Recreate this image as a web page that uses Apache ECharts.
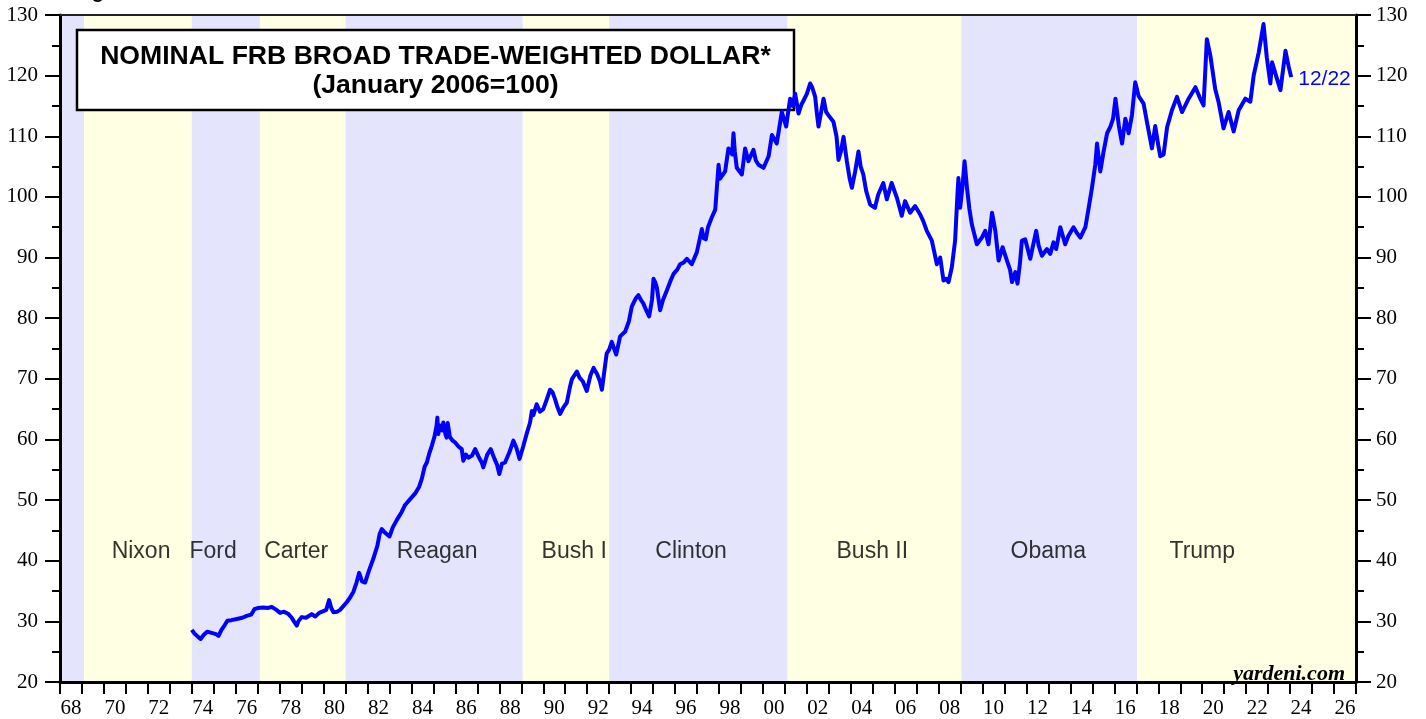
<!DOCTYPE html>
<html>
<head>
<meta charset="utf-8">
<script src="https://cdn.jsdelivr.net/npm/echarts@6/dist/echarts.min.js"></script>
<style>
html,body{margin:0;padding:0;background:#fff;}
#chart{width:1426px;height:719px;}
</style>
</head>
<body>
<div id="chart"></div>
<script>
// ---- Data ----
const yearLabels = ['68','69','70','71','72','73','74','75','76','77','78','79','80','81','82','83','84','85','86','87','88','89','90','91','92','93','94','95','96','97','98','99','00','01','02','03','04','05','06','07','08','09','10','11','12','13','14','15','16','17','18','19','20','21','22','23','24','25','26'];

const dates = [
1974.00,1974.04,1974.12,1974.30,1974.40,1974.55,1974.70,1974.90,1975.10,1975.22,1975.35,1975.50,1975.62,1975.80,
1976.05,1976.30,1976.50,1976.70,1976.85,1977.00,1977.26,1977.45,1977.64,1977.85,1978.02,1978.20,1978.40,1978.55,
1978.65,1978.78,1978.85,1979.00,1979.20,1979.46,1979.62,1979.80,1979.99,1980.12,1980.25,1980.35,1980.45,1980.62,
1980.75,1980.92,1981.06,1981.20,1981.36,1981.50,1981.62,1981.75,1981.89,1982.05,1982.27,1982.45,1982.55,1982.65,
1982.80,1983.00,1983.15,1983.33,1983.55,1983.71,1983.95,1984.17,1984.35,1984.47,1984.60,1984.70,1984.82,1984.93,
1985.05,1985.14,1985.18,1985.22,1985.30,1985.40,1985.45,1985.55,1985.60,1985.65,1985.75,1985.88,1985.99,1986.15,
1986.29,1986.36,1986.48,1986.59,1986.75,1986.90,1987.05,1987.20,1987.27,1987.45,1987.61,1987.78,1987.90,1988.00,
1988.12,1988.26,1988.45,1988.64,1988.78,1988.92,1989.10,1989.25,1989.40,1989.48,1989.55,1989.70,1989.85,1990.00,
1990.15,1990.31,1990.42,1990.54,1990.65,1990.77,1990.92,1991.07,1991.20,1991.30,1991.53,1991.65,1991.80,1991.98,
1992.15,1992.29,1992.45,1992.58,1992.67,1992.80,1992.89,1993.00,1993.12,1993.32,1993.50,1993.73,1993.90,1994.03,
1994.20,1994.33,1994.45,1994.56,1994.70,1994.82,1994.95,1995.02,1995.10,1995.17,1995.32,1995.45,1995.63,1995.80,
1995.93,1996.10,1996.23,1996.40,1996.54,1996.76,1996.99,1997.14,1997.22,1997.30,1997.40,1997.50,1997.67,1997.83,
1997.98,1998.05,1998.13,1998.28,1998.43,1998.60,1998.66,1998.72,1998.81,1999.04,1999.19,1999.34,1999.57,1999.68,
1999.80,2000.03,2000.26,2000.41,2000.63,2000.75,2000.86,2001.06,2001.15,2001.24,2001.35,2001.47,2001.62,2001.75,
2001.85,2002.00,2002.15,2002.25,2002.38,2002.45,2002.53,2002.65,2002.76,2002.88,2002.98,2003.21,2003.35,2003.44,
2003.55,2003.67,2003.82,2003.95,2004.05,2004.20,2004.35,2004.45,2004.57,2004.70,2004.88,2005.10,2005.25,2005.48,
2005.64,2005.86,2006.10,2006.32,2006.47,2006.70,2006.93,2007.16,2007.30,2007.46,2007.69,2007.92,2008.07,2008.22,
2008.35,2008.45,2008.60,2008.75,2008.85,2008.90,2008.98,2009.08,2009.18,2009.29,2009.40,2009.51,2009.74,2009.97,
2010.12,2010.27,2010.43,2010.58,2010.73,2010.91,2011.11,2011.25,2011.34,2011.49,2011.59,2011.70,2011.79,2011.94,
2012.17,2012.44,2012.55,2012.70,2012.93,2013.08,2013.23,2013.35,2013.54,2013.76,2013.91,2014.14,2014.30,2014.45,
2014.68,2014.83,2014.98,2015.13,2015.21,2015.36,2015.51,2015.67,2015.82,2015.94,2016.05,2016.20,2016.35,2016.50,
2016.65,2016.80,2016.95,2017.00,2017.10,2017.18,2017.33,2017.48,2017.71,2017.86,2018.00,2018.09,2018.24,2018.40,
2018.62,2018.85,2019.08,2019.38,2019.69,2019.91,2020.06,2020.21,2020.37,2020.59,2020.74,2020.97,2021.20,2021.43,
2021.66,2021.96,2022.19,2022.34,2022.57,2022.79,2022.94,2023.10,2023.18,2023.40,2023.56,2023.79,2023.94,2024.05
];

const dollarIndex = [
28.6,28.9,28.0,27.4,27.1,27.8,28.3,28.1,27.9,27.6,28.6,29.4,30.1,30.2,
30.4,30.6,30.9,31.1,32.0,32.2,32.3,32.2,32.4,31.9,31.4,31.6,31.2,30.6,
30.0,29.3,30.0,30.7,30.6,31.2,30.8,31.4,31.7,31.9,33.5,32.2,31.5,31.6,
31.9,32.6,33.2,33.9,34.9,36.4,38.0,36.6,36.4,38.2,40.4,42.5,44.4,45.2,
44.6,44.0,45.5,46.7,48.0,49.2,50.2,51.1,52.2,53.5,55.5,56.2,57.8,59.0,
60.5,62.2,63.6,60.9,62.3,61.5,62.8,60.8,60.3,62.7,60.4,59.8,59.5,58.8,
58.4,56.5,57.5,57.0,57.3,58.4,57.2,56.2,55.4,57.5,58.4,56.8,55.8,54.3,
56.0,56.2,57.8,59.8,58.6,56.8,59.0,61.0,62.8,64.7,64.0,65.8,64.6,65.0,
66.5,68.2,67.8,66.6,65.3,64.2,65.3,66.05,68.4,69.9,71.2,70.2,69.6,68.0,
70.6,71.8,70.8,69.6,68.2,71.8,74.2,74.8,76.1,74.0,77.0,77.8,79.5,81.9,
83.2,83.8,83.0,82.4,81.2,80.3,83.0,86.5,85.9,85.1,81.3,83.0,84.6,86.2,
87.3,88.0,88.9,89.2,89.8,88.9,90.85,93.3,94.7,93.2,93.0,95.0,96.6,97.9,
105.3,103.0,103.1,104.2,108.0,107.0,110.5,107.5,104.8,103.7,108.0,105.9,107.75,106.0,
105.3,104.8,106.7,110.2,108.8,111.5,114.0,111.6,114.0,116.2,115.0,117.0,113.75,115.2,
115.9,117.0,118.7,118.0,116.5,114.0,111.6,114.0,116.2,114.0,113.5,112.4,110.0,106.1,
107.5,109.9,105.9,103.0,101.5,104.2,107.5,105.0,103.7,101.0,98.75,98.2,100.4,102.3,
99.6,102.3,99.85,96.9,99.3,97.4,98.5,97.1,96.0,94.4,92.8,88.9,90.0,86.2,
86.5,85.95,88.4,92.8,100.0,103.1,98.2,101.5,105.9,101.5,98.0,95.5,92.2,93.3,
94.4,92.2,97.4,94.4,89.5,91.7,89.5,88.0,85.95,87.6,85.7,89.0,92.8,93.0,
89.8,94.4,92.0,90.3,91.4,90.6,92.5,91.4,95.0,92.2,93.6,95.0,94.0,93.3,
95.0,98.2,101.5,105.3,108.8,104.2,107.5,110.5,111.6,112.9,116.2,111.8,108.8,112.9,
110.5,113.5,118.9,119.0,116.7,116.2,115.4,112.4,108.0,111.7,108.5,106.7,107.0,111.5,
114.3,116.5,114.0,116.2,118.1,116.2,115.1,126.0,123.3,117.8,115.7,111.3,114.0,110.8,
114.3,116.2,115.7,120.0,123.8,128.5,123.0,118.7,122.2,119.5,117.6,124.1,121.4,119.75
];

const termStarts = [1968.0, 1969.09, 1974.0, 1977.1, 1981.0, 1989.07, 1993.0, 2001.12, 2009.03, 2017.03];
const termEnds   = [1969.09, 1974.0, 1977.1, 1981.0, 1989.07, 1993.0, 2001.12, 2009.03, 2017.03, 2027.0];
const termShade  = ['lav','yel','lav','yel','lav','yel','lav','yel','lav','yel'];

const presidents     = ['Nixon','Ford','Carter','Reagan','Bush I','Clinton','Bush II','Obama','Trump'];
const presidentX     = [1971.69, 1974.97, 1978.75, 1985.17, 1991.41, 1996.73, 2004.98, 2012.99, 2020.0];
const presidentLevel = 41.5;

const lastLabel = '12/22';

// ---- Chart ----
const shadeColor = {lav:'#e4e4fc', yel:'#ffffe3'};
const chart = echarts.init(document.getElementById('chart'), null, {renderer:'canvas'});

const lineData = dates.map((d,i)=>[d, dollarIndex[i]]);
const areaData = termStarts.map((s,i)=>[
  {xAxis:s, yAxis:130, itemStyle:{color:shadeColor[termShade[i]]}},
  {xAxis:termEnds[i], yAxis:20}
]);
const presData = presidents.map((n,i)=>({name:n, value:[presidentX[i], presidentLevel]}));

const serifFont = '"Liberation Serif","Times New Roman",serif';
const sansFont = '"Liberation Sans",Arial,sans-serif';

const yAxisBase = {
  type:'value', min:20, max:130, interval:10, z:10,
  axisLine:{show:true, onZero:false, lineStyle:{color:'#000', width:3}},
  axisTick:{show:true, length:15, lineStyle:{color:'#000', width:2}},
  minorTick:{show:true, splitNumber:2, length:8, lineStyle:{color:'#000', width:2}},
  splitLine:{show:false},
  axisLabel:{color:'#000', fontFamily:serifFont, fontSize:21}
};

chart.setOption({
  animation:false,
  backgroundColor:'#fff',
  grid:{left:60, right:70, top:15, bottom:31, containLabel:false},
  xAxis:[
    {
      type:'category', data:yearLabels, position:'bottom', boundaryGap:true, z:10,
      axisLine:{show:true, onZero:false, lineStyle:{color:'#000', width:3}},
      axisTick:{show:true, interval:0, length:12, lineStyle:{color:'#000', width:2}},
      axisLabel:{interval:1, color:'#000', fontFamily:serifFont, fontSize:21, margin:16},
      splitLine:{show:false}
    },
    {
      type:'value', min:1968, max:2027, position:'top', z:10,
      axisLine:{show:true, onZero:false, lineStyle:{color:'#222', width:2}},
      axisTick:{show:false}, axisLabel:{show:false}, splitLine:{show:false}
    }
  ],
  yAxis:[
    Object.assign({}, yAxisBase, {position:'left', axisLabel:Object.assign({}, yAxisBase.axisLabel, {margin:22})}),
    Object.assign({}, yAxisBase, {position:'right', axisLabel:Object.assign({}, yAxisBase.axisLabel, {margin:20})})
  ],
  graphic:[
    {type:'rect', z:4, shape:{x:77, y:30, width:717, height:80},
     style:{fill:'#fff', stroke:'#000', lineWidth:2.5}},
    {type:'text', z:4, x:435.5, y:57,
     style:{text:'NOMINAL FRB BROAD TRADE-WEIGHTED DOLLAR*', fill:'#000', font:'bold 26.6px '+sansFont, align:'center', verticalAlign:'middle'}},
    {type:'text', z:4, x:435.5, y:86,
     style:{text:'(January 2006=100)', fill:'#000', font:'bold 26.6px '+sansFont, align:'center', verticalAlign:'middle'}},
    {type:'text', z:20, x:1345, y:674,
     style:{text:'yardeni.com', fill:'#000', font:'italic bold 22px '+serifFont, align:'right', verticalAlign:'middle'}},
    {type:'text', z:20, x:74, y:-8,
     style:{text:'Figure 1.', fill:'#000', font:'bold 20px '+sansFont, align:'left', verticalAlign:'middle'}}
  ],
  series:[
    {
      type:'line', xAxisIndex:1, yAxisIndex:0, data:[], z:0, silent:true,
      markArea:{silent:true, z:0, data:areaData}
    },
    {
      type:'scatter', xAxisIndex:1, yAxisIndex:0, data:presData, z:6, silent:true,
      symbolSize:1, itemStyle:{color:'rgba(0,0,0,0)'},
      label:{show:true, position:'inside', formatter:p=>p.name, color:'#000', fontFamily:sansFont, fontSize:23}
    },
    {
      type:'line', xAxisIndex:1, yAxisIndex:0, data:lineData, z:8,
      showSymbol:false, symbol:'none',
      lineStyle:{color:'#0000ff', width:4, join:'round'},
      endLabel:{show:true, formatter:lastLabel, color:'#0000ff', fontFamily:sansFont, fontSize:21, distance:7, offset:[0,2]}
    }
  ]
});
</script>
</body>
</html>
